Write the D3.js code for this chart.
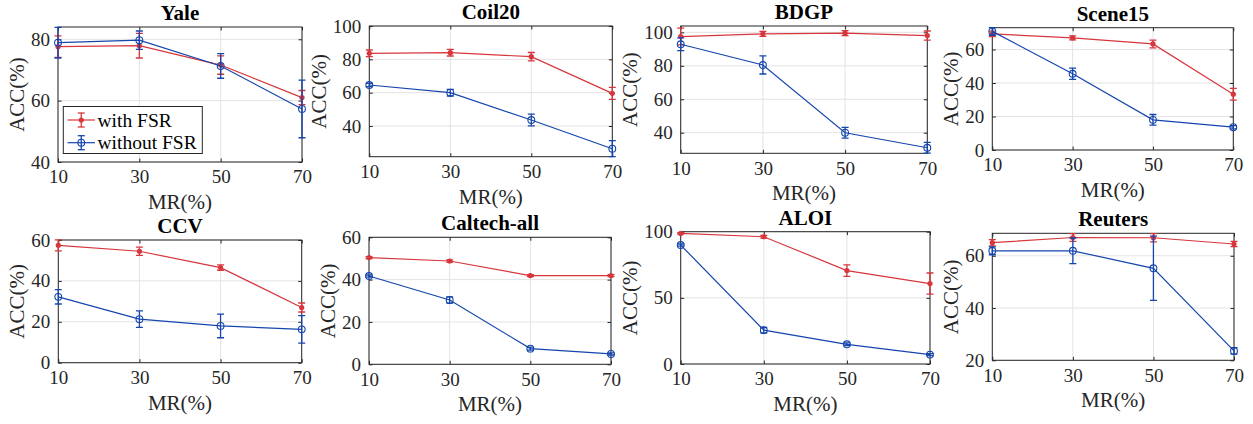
<!DOCTYPE html>
<html>
<head>
<meta charset="utf-8">
<script src="https://cdn.jsdelivr.net/npm/d3@7"></script>
<style>
  html, body { margin: 0; padding: 0; background: #fff; }
  svg { display: block; }
</style>
</head>
<body>
<svg id="chart" width="1253" height="424"></svg>
<script>
// Missing-rate levels shared by every panel
const missingRates = [10, 30, 50, 70];

// Dataset names (panel titles)
const datasets = ["Yale", "Coil20", "BDGP", "Scene15", "CCV", "Caltech-all", "ALOI", "Reuters"];

// Mean accuracy (%) with FSR
const withFSR = [
  [77.6, 77.9, 71.6, 61.0],
  [83.6, 84.0, 81.6, 59.6],
  [97.5, 99.1, 99.5, 98.1],
  [69.3, 66.9, 63.3, 33.3],
  [57.4, 54.5, 46.5, 27.0],
  [50.4, 48.8, 41.9, 41.9],
  [98.7, 96.2, 70.6, 60.8],
  [65.0, 67.0, 66.9, 64.5]
];
// Standard deviation with FSR
const withFSRStd = [
  [3.5, 4.0, 3.0, 2.3],
  [2.0, 2.0, 2.5, 3.6],
  [5.0, 1.5, 1.5, 2.7],
  [1.6, 1.2, 2.3, 3.5],
  [2.7, 2.0, 1.3, 2.2],
  [0.5, 0.5, 0.5, 0.5],
  [0.5, 1.0, 4.4, 8.0],
  [1.2, 1.5, 1.6, 1.0]
];

// Mean accuracy (%) without FSR
const withoutFSR = [
  [78.9, 79.7, 71.3, 57.3],
  [64.6, 60.0, 43.6, 26.4],
  [92.9, 80.5, 40.0, 31.0],
  [70.8, 45.5, 18.0, 13.6],
  [32.2, 21.3, 18.0, 16.3],
  [41.7, 30.4, 7.4, 4.9],
  [89.9, 25.6, 14.9, 7.1],
  [61.9, 61.9, 55.2, 23.6]
];
// Standard deviation without FSR
const withoutFSRStd = [
  [5.0, 3.0, 4.0, 9.4],
  [1.0, 2.0, 3.5, 4.8],
  [3.8, 5.4, 3.2, 3.2],
  [2.3, 3.4, 3.2, 1.0],
  [3.5, 4.0, 5.8, 6.7],
  [0.5, 1.5, 0.7, 0.5],
  [0.8, 2.0, 1.0, 0.8],
  [1.5, 4.9, 12.3, 1.2]
];

// Y-axis ranges and tick values per panel
const yDomains = [[40, 84], [21.6, 100], [27.7, 103.8], [0, 73], [0, 60], [0, 60], [0, 100], [20, 68.6]];
const yTicks = [[40, 60, 80], [40, 60, 80, 100], [40, 60, 80, 100], [0, 20, 40, 60],
                [0, 20, 40, 60], [0, 20, 40, 60], [0, 50, 100], [20, 40, 60]];

const seriesNames = ["with FSR", "without FSR"];

// Plot-area rectangles (pixels) for the 2x4 grid
const frames = [
  { l: 58,    r: 302,    t: 27,    b: 162 },
  { l: 369.3, r: 612.3,  t: 26,    b: 156.7 },
  { l: 680.7, r: 927.3,  t: 26,    b: 153.3 },
  { l: 992.3, r: 1233.3, t: 27.7,  b: 150 },
  { l: 58.3,  r: 301.7,  t: 240,   b: 362.7 },
  { l: 369,   r: 611,    t: 237.3, b: 364.3 },
  { l: 680.7, r: 930,    t: 231.7, b: 364 },
  { l: 992.3, r: 1234,   t: 233.3, b: 360.3 }
];

const RED = "#d7373c";
const BLUE = "#1546ad";
const AXIS = "#262626";
const GRID = "#e3e3e3";
const FONT = '"Liberation Serif"';

const svg = d3.select("#chart");
const defs = svg.append("defs");

function label(sel, size, weight) {
  return sel.style("font-family", FONT).style("font-size", size + "px")
    .style("font-weight", weight || "normal");
}

datasets.forEach((name, i) => {
  const f = frames[i];
  const x = d3.scaleLinear().domain([10, 70]).range([f.l, f.r]);
  const y = d3.scaleLinear().domain(yDomains[i]).range([f.b, f.t]);
  const g = svg.append("g");

  // grid
  g.selectAll(".gx").data(missingRates).enter().append("line")
    .attr("x1", d => x(d)).attr("x2", d => x(d))
    .attr("y1", f.t).attr("y2", f.b)
    .attr("stroke", GRID).attr("stroke-width", 1);
  g.selectAll(".gy").data(yTicks[i]).enter().append("line")
    .attr("x1", f.l).attr("x2", f.r)
    .attr("y1", d => y(d)).attr("y2", d => y(d))
    .attr("stroke", GRID).attr("stroke-width", 1);

  // axes (ticks inward, mirrored on the opposite sides)
  const tickSize = 3.5;
  const axB = g.append("g").attr("transform", `translate(0,${f.b})`)
    .call(d3.axisBottom(x).tickValues(missingRates).tickSize(-tickSize).tickPadding(8));
  const axT = g.append("g").attr("transform", `translate(0,${f.t})`)
    .call(d3.axisTop(x).tickValues(missingRates).tickSize(-tickSize).tickFormat(""));
  const axL = g.append("g").attr("transform", `translate(${f.l},0)`)
    .call(d3.axisLeft(y).tickValues(yTicks[i]).tickSize(-tickSize).tickPadding(8));
  const axR = g.append("g").attr("transform", `translate(${f.r},0)`)
    .call(d3.axisRight(y).tickValues(yTicks[i]).tickSize(-tickSize).tickFormat(""));
  [axB, axT, axL, axR].forEach(a => {
    a.attr("font-family", null).attr("font-size", null);
    a.select(".domain").remove();
    a.selectAll("line").attr("stroke", AXIS);
    label(a.selectAll("text"), 19).attr("fill", AXIS);
  });
  axB.selectAll("text").attr("dy", "0.71em");

  // box
  g.append("rect").attr("x", f.l).attr("y", f.t)
    .attr("width", f.r - f.l).attr("height", f.b - f.t)
    .attr("fill", "none").attr("stroke", AXIS).attr("stroke-width", 1);

  // data
  const clipId = "clip" + i;
  defs.append("clipPath").attr("id", clipId).append("rect")
    .attr("x", f.l - 6).attr("y", f.t - 1.5)
    .attr("width", f.r - f.l + 12).attr("height", f.b - f.t + 3);
  const dg = g.append("g").attr("clip-path", `url(#${clipId})`);

  const series = [
    { mean: withFSR[i], sd: withFSRStd[i], color: RED, marker: "dot" },
    { mean: withoutFSR[i], sd: withoutFSRStd[i], color: BLUE, marker: "circle" }
  ];
  series.forEach(s => {
    const pts = missingRates.map((m, k) => ({ m, v: s.mean[k], e: s.sd[k] }));
    dg.append("path").datum(pts)
      .attr("fill", "none").attr("stroke", s.color).attr("stroke-width", 1.2)
      .attr("d", d3.line().x(d => x(d.m)).y(d => y(d.v)));
    const cap = 3.5;
    pts.forEach(p => {
      const cx = x(p.m), hi = y(p.v + p.e), lo = y(p.v - p.e);
      dg.append("line").attr("x1", cx).attr("x2", cx).attr("y1", hi).attr("y2", lo)
        .attr("stroke", s.color).attr("stroke-width", 1.3);
      [hi, lo].forEach(yy => dg.append("line")
        .attr("x1", cx - cap).attr("x2", cx + cap).attr("y1", yy).attr("y2", yy)
        .attr("stroke", s.color).attr("stroke-width", 1.3));
      if (s.marker === "dot") {
        dg.append("circle").attr("cx", cx).attr("cy", y(p.v)).attr("r", 2.6)
          .attr("fill", s.color);
      } else {
        dg.append("circle").attr("cx", cx).attr("cy", y(p.v)).attr("r", 3.4)
          .attr("fill", "none").attr("stroke", s.color).attr("stroke-width", 1.1);
      }
    });
  });

  // title
  label(g.append("text"), 21, "bold")
    .attr("x", (f.l + f.r) / 2).attr("y", f.t - 14)
    .attr("text-anchor", "middle").attr("dominant-baseline", "central")
    .attr("fill", "#000")
    .text(name);

  // x label
  label(g.append("text"), 21)
    .attr("x", (f.l + f.r) / 2).attr("y", f.b + 40)
    .attr("text-anchor", "middle").attr("dominant-baseline", "central")
    .attr("fill", AXIS)
    .text("MR(%)");

  // y label, placed clear of the widest tick label
  let tw = 0;
  axL.selectAll("text").each(function () { tw = Math.max(tw, this.getComputedTextLength()); });
  const lx = f.l - 8 - tw - 14;
  const ly = (f.t + f.b) / 2;
  label(g.append("text"), 21)
    .attr("transform", `translate(${lx},${ly}) rotate(-90)`)
    .attr("text-anchor", "middle").attr("dominant-baseline", "central")
    .attr("fill", AXIS)
    .text("ACC(%)");

  // legend in the first panel
  if (i === 0) {
    const lg = g.append("g");
    lg.append("rect").attr("x", 63.3).attr("y", 106.5).attr("width", 139).attr("height", 47)
      .attr("fill", "#fff").attr("stroke", AXIS).attr("stroke-width", 1);
    series.forEach((s, k) => {
      const cy = 120 + k * 22.7;
      const x0 = 67.5, x1 = 95, xc = (x0 + x1) / 2;
      lg.append("line").attr("x1", x0).attr("x2", x1).attr("y1", cy).attr("y2", cy)
        .attr("stroke", s.color).attr("stroke-width", 1.2);
      lg.append("line").attr("x1", xc).attr("x2", xc).attr("y1", cy - 7).attr("y2", cy + 7)
        .attr("stroke", s.color).attr("stroke-width", 1.3);
      [cy - 7, cy + 7].forEach(yy => lg.append("line")
        .attr("x1", xc - 3.5).attr("x2", xc + 3.5).attr("y1", yy).attr("y2", yy)
        .attr("stroke", s.color).attr("stroke-width", 1.3));
      if (s.marker === "dot") {
        lg.append("circle").attr("cx", xc).attr("cy", cy).attr("r", 2.6).attr("fill", s.color);
      } else {
        lg.append("circle").attr("cx", xc).attr("cy", cy).attr("r", 3.4)
          .attr("fill", "none").attr("stroke", s.color).attr("stroke-width", 1.1);
      }
      label(lg.append("text"), 19.5)
        .attr("x", 97.5).attr("y", cy).attr("dominant-baseline", "central")
        .attr("fill", "#000").text(seriesNames[k]);
    });
  }
});
</script>
</body>
</html>
